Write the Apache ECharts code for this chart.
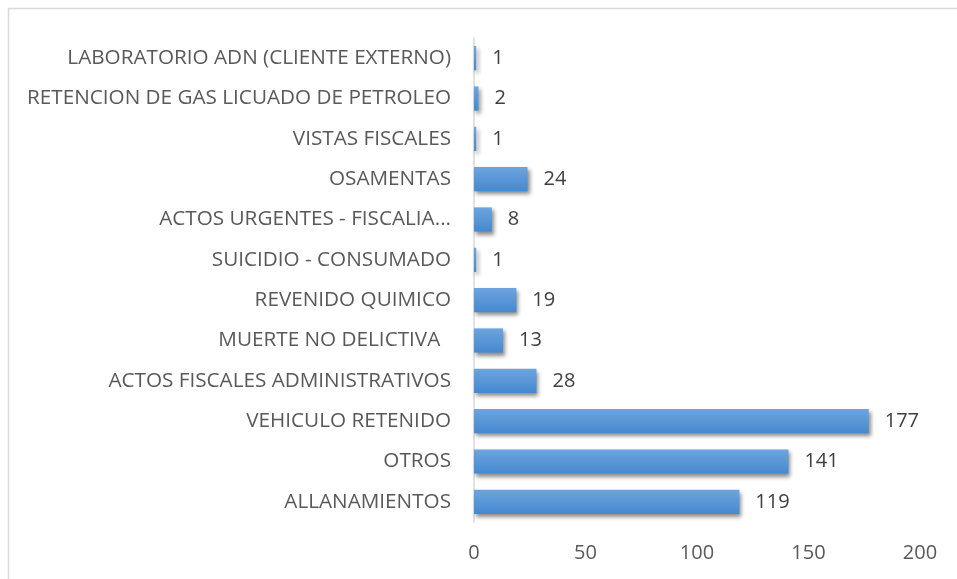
<!DOCTYPE html>
<html>
<head>
<meta charset="utf-8">
<script src="https://cdn.jsdelivr.net/npm/echarts@6/dist/echarts.min.js"></script>
<style>
  html, body { margin: 0; padding: 0; background: #fff; }
  #chart { width: 957px; height: 579px; }
</style>
</head>
<body>
<div id="chart"></div>
<script>
// categories top to bottom
var categorias = [
  'LABORATORIO ADN (CLIENTE EXTERNO)',
  'RETENCION DE GAS LICUADO DE PETROLEO',
  'VISTAS FISCALES',
  'OSAMENTAS',
  'ACTOS URGENTES - FISCALIA...',
  'SUICIDIO - CONSUMADO',
  'REVENIDO QUIMICO',
  'MUERTE NO DELICTIVA  ',
  'ACTOS FISCALES ADMINISTRATIVOS',
  'VEHICULO RETENIDO',
  'OTROS',
  'ALLANAMIENTOS'
]
var cantidades = [1, 2, 1, 24, 8, 1, 19, 13, 28, 177, 141, 119]

var chart = echarts.init(document.getElementById('chart'))
var option = {
  animation: false,
  textStyle: { fontFamily: 'Open Sans' },
  graphic: [{
    type: 'rect',
    shape: { x: 8.5, y: 8.5, width: 960, height: 580 },
    style: { fill: 'none', stroke: '#d9d9d9', lineWidth: 1.5 }
  }],
  grid: { left: 474, right: 37, top: 38, bottom: 57 },
  xAxis: {
    type: 'value',
    min: 0,
    max: 200,
    interval: 50,
    axisLine: { show: false },
    axisTick: { show: false },
    splitLine: { show: false },
    axisLabel: { color: '#595959', fontSize: 20, margin: 21 }
  },
  yAxis: {
    type: 'category',
    inverse: true,
    data: categorias,
    axisLine: { show: true, lineStyle: { color: '#d9d9d9', width: 1.5 } },
    axisTick: { show: false },
    axisLabel: { color: '#595959', fontSize: 20.7, margin: 23 }
  },
  series: [{
    type: 'bar',
    data: cantidades,
    barCategoryGap: '40%',
    itemStyle: {
      color: new echarts.graphic.LinearGradient(0, 0, 0, 1, [
        { offset: 0, color: '#6da4dd' },
        { offset: 1, color: '#4589d0' }
      ]),
      shadowColor: 'rgba(0,0,0,0.45)',
      shadowBlur: 4,
      shadowOffsetX: 2,
      shadowOffsetY: 3
    },
    label: {
      show: true,
      position: 'right',
      distance: 16,
      color: '#404040',
      fontSize: 20
    }
  }]
}
chart.setOption(option)
</script>
</body>
</html>
